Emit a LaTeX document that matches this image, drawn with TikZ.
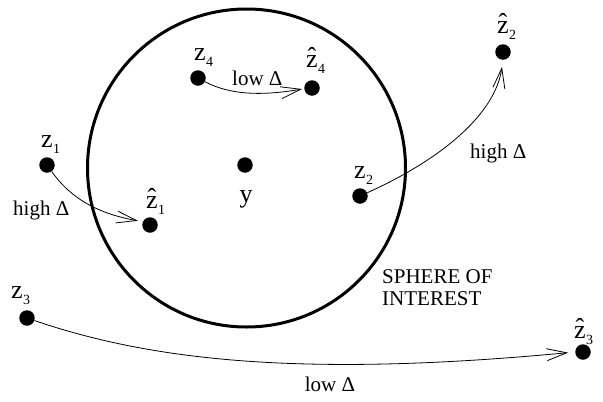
\documentclass[tikz,border=0pt]{standalone}
\usepackage{fontspec}
\setmainfont{Liberation Serif}
\usetikzlibrary{arrows.meta}
\newcommand{\zsubs}[1]{\hspace{0.5pt}\raisebox{-6pt}{\fontsize{14}{14}\selectfont #1}}
\newcommand{\zsub}[1]{z\zsubs{#1}}
\newcommand{\zhat}[1]{\makebox[0pt][l]{\makebox[0.444em]{\raisebox{2pt}{\char"02C6}}}z\zsubs{#1}}
\begin{document}
\begin{tikzpicture}[x=1pt,y=-1pt,
  dot/.style={circle,fill=black,inner sep=0pt,minimum size=15.5pt},
  lab/.style={inner sep=0pt,anchor=base west,font=\fontsize{26}{26}\selectfont},
  txt/.style={inner sep=0pt,anchor=base west,font=\fontsize{21}{21}\selectfont},
  arr/.style={line width=0.8pt,-{Straight Barb[length=20pt,width=12pt,line width=0.8pt]}}]
\useasboundingbox (0,0) rectangle (603,402);
\node[circle,draw,line width=3pt,minimum size=318pt,inner sep=0pt] (sphere) at (246.5,168) {};
% dots
\node[dot] (z1) at (47,165) {};
\node[dot] (hz1) at (150,225) {};
\node[dot] (z4) at (198,78) {};
\node[dot] (hz4) at (312,88) {};
\node[dot] (y) at (245,165) {};
\node[dot] (z2) at (360,196) {};
\node[dot] (hz2) at (503,52) {};
\node[dot] (z3) at (27,318) {};
\node[dot] (hz3) at (583,352) {};
% labels
\node[lab] (lz1) at (41,147) {\zsub{1}};
\node[lab] (lhz1) at (146,208) {\zhat{1}};
\node[lab] (lz4) at (194,60) {\zsub{4}};
\node[lab] (lhz4) at (306,67) {\zhat{4}};
\node[lab] (lz2) at (354,178) {\zsub{2}};
\node[lab] (lhz2) at (497,33) {\zhat{2}};
\node[lab] (lz3) at (11,298) {\zsub{3}};
\node[lab] (lhz3) at (574,338) {\zhat{3}};
\node[lab,anchor=base] (ly) at (246,202) {y};
% texts
\node[txt] (t1) at (13,215) {high Δ};
\node[txt] (t4) at (232,85) {low Δ};
\node[txt] (t2) at (470,158) {high Δ};
\node[txt,anchor=base] (t3) at (330,391) {low Δ};
\node[txt] (s1) at (382,283) {SPHERE OF};
\node[txt] (s2) at (382,305) {INTEREST};
% arrows
\draw[arr,shorten >=5pt] (z1) .. controls (72,200) and (100,214) .. (hz1.155);
\draw[arr,shorten >=2pt] (z4) .. controls (230,95) and (262,96) .. (hz4.185);
\draw[arr,shorten >=7pt] (z2) .. controls (440,160) and (495,115) .. (hz2.south);
\draw[arr,shorten >=7pt] (z3) .. controls (150,360) and (300,378) .. (hz3.west);
\end{tikzpicture}
\end{document}
